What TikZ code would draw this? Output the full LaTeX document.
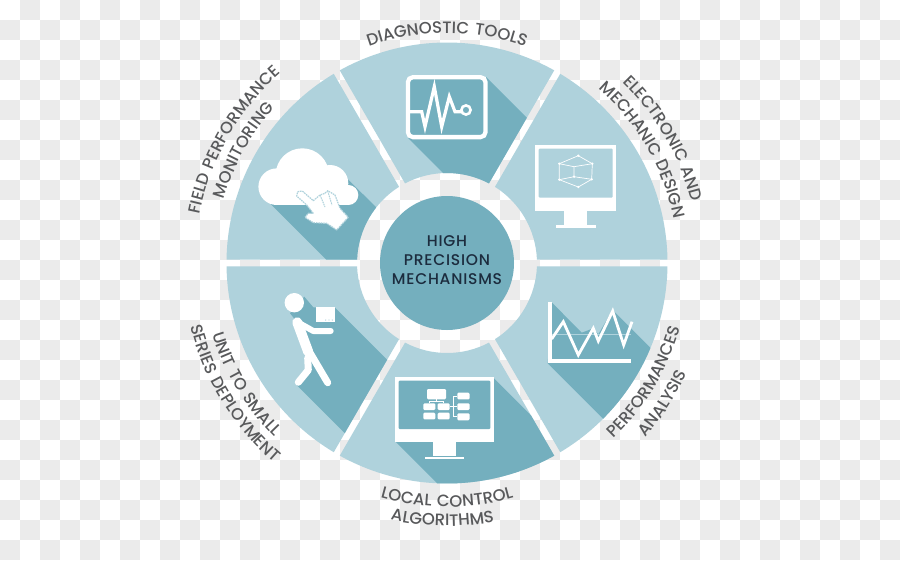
\documentclass[tikz,border=0pt]{standalone}
\usepackage{fontspec}
\setmainfont{Poppins}
\newfontfamily\labelfont[LetterSpace=8,UprightFont=* Medium]{Poppins}
\newfontfamily\hubfont[LetterSpace=5,UprightFont=* Medium]{Poppins}
\usetikzlibrary{decorations.text}
\definecolor{palewedge}{HTML}{AFD2DC}
\definecolor{darkwedge}{HTML}{74AFBE}
\definecolor{tilegrey}{HTML}{EBEBEB}
\definecolor{labelgrey}{HTML}{58595B}
\definecolor{hubtext}{HTML}{1C2C3E}
\tikzset{
  wheel/.style={shift={(447,263)},y=1pt},
  wedgefill/.style={fill=palewedge},
  shadowfill/.style={fill=darkwedge},
  iconline/.style={draw=white,line width=#1,line join=miter},
  iconline/.default=3pt,
  limb/.style={draw=white,line width=#1,line cap=round,line join=round},
  hubnode/.style={
    circle,
    fill=darkwedge,
    minimum size=134pt,
    inner sep=0pt
  },
  hubcaption/.style={
    align=center,
    text=hubtext,
    font=\hubfont\fontsize{15.5}{19}\selectfont
  }
}
% one wheel sector, angles given from its two gap lines
\newcommand{\sectorpath}[2]{({#1+0.9}:220.5) arc[start angle={#1+0.9},end angle={#2-0.9},radius=220.5]
  -- ({#2-2.2}:90) arc[start angle={#2-2.2},end angle={#1+2.2},radius=90] -- cycle}
% curved caption: start angle, end angle, baseline radius, text
\newcommand{\arclabel}[4]{\path[wheel,decorate,decoration={text along path,text align=center,
  text={|\labelfont\fontsize{16.5}{16.5}\selectfont\color{labelgrey}|#4}}]
  (#1:#3) arc[start angle=#1,end angle=#2,radius=#3];}

\begin{document}
\begin{tikzpicture}[x=1pt,y=-1pt]
  \useasboundingbox (0,0) rectangle (900,560);
  \fill[white] (0,0) rectangle (900,560);
  \foreach \i in {0,...,44}
    \foreach \j in {0,...,27} {
      \pgfmathtruncatemacro{\odd}{mod(\i+\j,2)}
      \ifnum\odd=1 \fill[tilegrey] ({20*\i},{20*\j}) rectangle ++(20,20); \fi
    }

  % sectors
  \foreach \a in {0,60,...,300}
    \fill[wheel,wedgefill] \sectorpath{\a}{\a+60};

  % long shadows, each one cut to its sector
  \begin{scope}
    \clip[wheel] \sectorpath{60}{120};
    \fill[shadowfill] (486,77) -- (586,177) -- (508,238) -- (408,138) -- cycle;
  \end{scope}
  \begin{scope}
    \clip[wheel] \sectorpath{300}{360};
    \fill[shadowfill] (551.7,302.3) -- (581.7,332.7) -- (593.3,328.3) -- (598.3,334.3) -- (612.7,310)
      -- (712.7,410) -- (647.7,463.3) -- (547.7,363.3) -- cycle;
  \end{scope}
  \begin{scope}
    \clip[wheel] \sectorpath{240}{300};
    \fill[shadowfill] (493.7,378) -- (593.7,478) -- (496,542) -- (396,442) -- cycle;
  \end{scope}
  \begin{scope}
    \clip[wheel] \sectorpath{180}{240};
    \fill[shadowfill] (304.3,296.7) -- (313.3,307.3) -- (334.7,307.3) -- (434.7,407.3) -- (396.7,485)
      -- (296.7,385) -- (308.3,365) -- (296.7,321.7) -- (290,313.3) -- cycle;
  \end{scope}
  \begin{scope}
    \clip[wheel] \sectorpath{120}{180};
    \fill[shadowfill] (268.3,201.7) -- (346,177.3) -- (446,277) -- (368.3,301.7) -- cycle;
  \end{scope}

  % diagnostic monitor
  \draw[white,line width=4.3pt,rounded corners=5pt,fill=darkwedge] (407.9,77.2) rectangle (485.5,137.1);
  \draw[iconline=3.2pt] (410,111.7) -- (421.7,111.7) -- (425,126.7) -- (434.3,86.7) -- (441.7,126.7)
    -- (449.3,96.7) -- (455,111.7) -- (462,111.7);
  \draw[white,line width=2.6pt] (466,110) circle[radius=4.6];

  % screen with wire cube
  \fill[white] (535.3,145.3) rectangle (616,211.3);
  \fill[white] (564.3,211.3) rectangle (587.3,225.3);
  \fill[white] (555.7,225.3) rectangle (596,228.3);
  \fill[palewedge,rounded corners=1pt] (538.7,148.7) rectangle (612.7,197.7);
  \draw[white,line width=.7pt] (578.3,155.7) -- (592.3,163.7) -- (591.7,179.3) -- (578.3,187)
    -- (559.3,179.7) -- (559.3,163.7) -- cycle;
  \draw[white,line width=.7pt] (559.3,163.7) -- (574,166.7) -- (592.3,163.7)
    (574,166.7) -- (574,176.7) (559.3,179.7) -- (574,176.7) -- (591.7,179.3);
  \foreach \x/\y in {578.3/155.7,592.3/163.7,591.7/179.3,578.3/187,559.3/179.7,559.3/163.7,574/176.7}
    \fill[white] (\x,\y) circle[radius=1.3];

  % chart
  \draw[palewedge,line width=.9pt] (551.7,334) -- (630.7,334);
  \draw[iconline=2.8pt] (551.7,339) -- (563.3,321.7) -- (578.3,355) -- (593.3,328.3) -- (598.3,341)
    -- (612.7,311) -- (623.7,345) -- (632,321.7);
  \draw[iconline=4pt] (549.7,302.3) -- (549.7,361.3) -- (631,361.3);

  % screen with flow blocks
  \fill[white] (395.3,377.3) rectangle (493.7,442);
  \fill[white] (433.3,442) rectangle (456,456);
  \fill[white] (424.7,456.7) rectangle (464.3,459.3);
  \fill[darkwedge,rounded corners=1pt] (398.7,380.7) rectangle (490.3,429);
  \foreach \x/\y/\w/\h in {427/389/19/10.3,423.3/403.3/12/6.7,437.7/403.3/12/6.7,423.3/412.7/12/6.7,
    437.7/412.7/12/6.7,457.3/392.7/12.3/6.7,457.3/403.3/12.3/6.7,457.3/413.3/12.3/7}
    \fill[white,rounded corners=1.2pt] (\x,\y) rectangle ++(\w,\h);
  \draw[white,line width=.8pt] (436.3,399) -- (436.3,401.3) (429.3,401.3) -- (443.7,401.3)
    (429.3,401.3) -- (429.3,403.3) (443.7,401.3) -- (443.7,403.3) (449.7,406.7) -- (453.3,406.7)
    (453.3,396) -- (453.3,416.7) (453.3,396) -- (457.3,396) (453.3,406.7) -- (457.3,406.7)
    (453.3,416.7) -- (457.3,416.7);

  % carrier and box
  \fill[white] (294.3,302.7) circle[radius=9.7];
  \fill[white] (315.7,307.3) rectangle (334.7,322.3);
  \foreach \x in {325.7,329,332.3}
    \fill[palewedge] (\x,320) circle[radius=.7];
  \draw[limb=10pt] (297.3,322.3) -- (308.3,352);
  \draw[limb=6pt] (299,323) -- (313.3,331) -- (330.7,331);
  \draw[limb=7pt] (309,351) -- (327.7,382.7);
  \draw[limb=7pt] (307.7,358) -- (308.3,370) -- (298.3,382.3);

  % cloud and pointer
  \fill[white] (276.7,186.7) circle[radius=18.3];
  \fill[white] (302.3,175) circle[radius=26.7];
  \fill[white] (330,183.3) circle[radius=18.3];
  \fill[white] (348.3,195) circle[radius=10];
  \fill[white] (276,188) rectangle (348,204.8);
  \draw[fill=white,draw=palewedge,line width=1.2pt,dash pattern=on 1.6pt off .8pt,line join=bevel]
    (297.7,191.7) -- (302.3,191) -- (313.3,200.7) -- (320,195) -- (325,193.3) -- (327.7,190.7) -- (335,195)
    -- (340,208.3) -- (348.3,217.3) -- (336.7,230) -- (326.7,223.3) -- (313.3,222.7) -- (305,217.3)
    -- (308.3,213.3) -- (313.3,213.3) -- (306.7,205) -- (296.7,196) -- cycle;
  \draw[palewedge,line width=1pt,dash pattern=on 1.6pt off .8pt] (320,195) -- (325,207) (327.7,191) -- (332,205);

  \node[hubnode] (hub) at (447,263) {};
  \node[hubcaption] (hubtitle) at ([yshift=3pt]hub.center) {HIGH\\PRECISION\\MECHANISMS};

  % captions
  \arclabel{125}{55}{230}{DIAGNOSTIC TOOLS}
  \arclabel{65}{-5}{252}{ELECTRONIC AND}
  \arclabel{65}{-5}{231}{MECHANIC DESIGN}
  \arclabel{-66}{4}{242}{PERFORMANCES}
  \arclabel{-68}{2}{264}{ANALYSIS}
  \arclabel{-125}{-55}{244}{LOCAL CONTROL}
  \arclabel{-126}{-56}{263}{ALGORITHMS}
  \arclabel{176}{246}{245}{UNIT TO SMALL}
  \arclabel{176.5}{246.5}{264}{SERIES DEPLOYMENT}
  \arclabel{185}{115}{252}{FIELD PERFORMANCE}
  \arclabel{186}{116}{232}{MONITORING}
\end{tikzpicture}
\end{document}
